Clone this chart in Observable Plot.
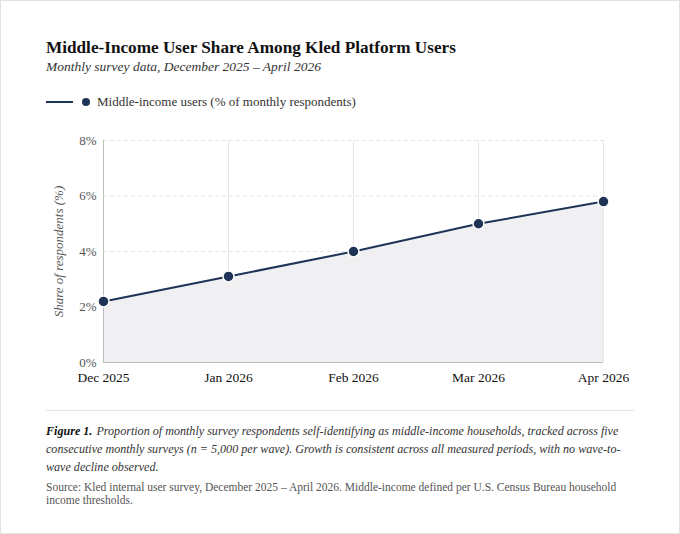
<!DOCTYPE html>
<html>
<head>
<meta charset="utf-8">
<script src="https://cdn.jsdelivr.net/npm/d3@7"></script>
<script src="https://cdn.jsdelivr.net/npm/@observablehq/plot@0.6"></script>
<style>
  html, body { margin: 0; padding: 0; background: #fff; }
  .card { box-sizing: border-box; width: 680px; height: 534px; border: 1px solid #e2e2e2; padding: 37px 0 0 45px; font-family: "Liberation Serif", "DejaVu Serif", serif; color: #111; position: relative; }
  .title { font-size: 17.2px; font-weight: bold; line-height: 20px; margin: 0; }
  .subtitle { font-size: 13.5px; font-style: italic; color: #333; line-height: 18px; margin-top: 0px; }
  .legend { display: flex; align-items: center; margin-top: 18px; font-size: 13px; color: #333; height: 16px; }
  .legend .sw { width: 27px; height: 2px; background: #1e3356; margin-right: 9px; }
  .legend .dot { width: 8px; height: 8px; border-radius: 50%; background: #1e3356; margin-right: 7px; }
  .chart { margin-top: 20px; }
  .chart svg { overflow: visible; }
  .chart g[aria-label="y-axis label"] text { font-style: italic; }
  .sep { width: 588px; height: 1px; background: #e3e3e3; margin-top: 15px; }
  .caption { width: 592px; font-size: 12.1px; font-style: italic; line-height: 18px; color: #333; margin-top: 11px; }
  .caption b { color: #111; display: inline-block; margin-right: 1px; }
  .source { width: 590px; font-size: 11.5px; color: #555; line-height: 13px; margin-top: 5px; }
</style>
</head>
<body>
<div class="card">
  <div class="title">Middle-Income User Share Among Kled Platform Users</div>
  <div class="subtitle">Monthly survey data, December 2025 – April 2026</div>
  <div class="legend"><span class="sw"></span><span class="dot"></span><span>Middle-income users (% of monthly respondents)</span></div>
  <div class="chart" id="chart"></div>
  <div class="sep"></div>
  <div class="caption"><b>Figure 1.</b> Proportion of monthly survey respondents self-identifying as middle-income households, tracked across five consecutive monthly surveys (n = 5,000 per wave). Growth is consistent across all measured periods, with no wave-to-wave decline observed.</div>
  <div class="source">Source: Kled internal user survey, December 2025 – April 2026. Middle-income defined per U.S. Census Bureau household income thresholds.</div>
</div>
<script>
const months = ["Dec 2025", "Jan 2026", "Feb 2026", "Mar 2026", "Apr 2026"];
const shares = [2.2, 3.1, 4.0, 5.0, 5.8];
const yTicks = [0, 2, 4, 6, 8];

const data = months.map((m, i) => ({month: m, share: shares[i]}));
const navy = "#1e3356";

const plot = Plot.plot({
  width: 588,
  height: 265,
  marginLeft: 57,
  marginRight: 31,
  marginTop: 10,
  marginBottom: 33,
  style: {fontFamily: "'Liberation Serif', 'DejaVu Serif', serif", fontSize: "12.5px", background: "transparent"},
  x: {type: "point", domain: months, padding: 0},
  y: {domain: [0, 8]},
  marks: [
    Plot.ruleX(months, {stroke: "#e6e6e6", strokeWidth: 1}),
    Plot.ruleY(yTicks.filter(d => d > 0), {stroke: "#e4e4e4", strokeDasharray: "4,3", strokeWidth: 1}),
    Plot.areaY(data, {x: "month", y: "share", fill: "#f0f0f3"}),
    Plot.ruleY([0], {stroke: "#bdbdbd", strokeWidth: 1}),
    Plot.ruleX([months[0]], {stroke: "#bdbdbd", strokeWidth: 1}),
    Plot.lineY(data, {x: "month", y: "share", stroke: navy, strokeWidth: 2}),
    Plot.dot(data, {x: "month", y: "share", r: 5.5, fill: navy, stroke: "#fff", strokeWidth: 1.5}),
    Plot.axisX({tickSize: 0, tickPadding: 10, label: null, fill: "#111", fontSize: 13.5}),
    Plot.axisY({ticks: yTicks, tickSize: 0, tickPadding: 7, tickFormat: d => d + "%", fill: "#555", fontSize: 13,
      label: "Share of respondents (%)", labelAnchor: "center", labelArrow: "none", labelOffset: 50})
  ]
});
document.getElementById("chart").appendChild(plot);
</script>
</body>
</html>
